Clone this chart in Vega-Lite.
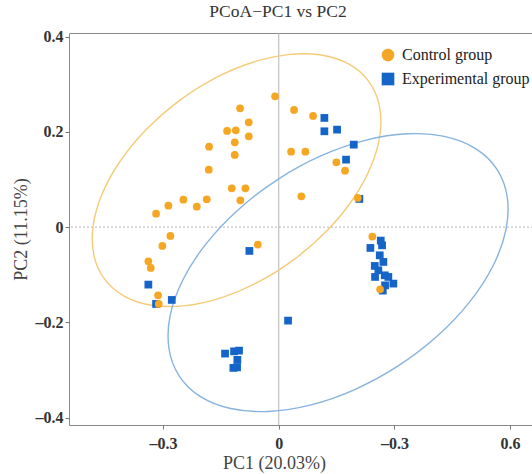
{
  "$schema": "https://vega.github.io/schema/vega-lite/v6.json",
  "autosize": {"type": "none"},
  "width": 468,
  "height": 392,
  "padding": {"left": 69, "top": 33, "right": 0, "bottom": 49},
  "background": "white",
  "title": {"text": "PCoA\u2212PC1 vs PC2", "font": "Liberation Serif", "fontSize": 17.5, "fontWeight": "normal", "color": "#333", "anchor": "middle", "dx": -25, "offset": 8},
  "config": {
    "view": {"stroke": "#8a8a8a", "strokeWidth": 1},
    "axis": {"grid": false, "domain": false, "tickColor": "#777", "tickSize": 4, "labelFont": "Liberation Serif", "labelFontWeight": "bold", "labelFontSize": 16, "labelColor": "#333", "titleFont": "Liberation Serif", "titleFontWeight": "normal", "titleFontSize": 18, "titleColor": "#444"}
  },
  "datasets": {
    "pts": [
      {"g": "Experimental group", "x": 0.1183, "y": 0.2293},
      {"g": "Experimental group", "x": 0.1183, "y": 0.2012},
      {"g": "Experimental group", "x": 0.1512, "y": 0.2047},
      {"g": "Experimental group", "x": 0.1945, "y": 0.1732},
      {"g": "Experimental group", "x": 0.1745, "y": 0.1417},
      {"g": "Experimental group", "x": 0.2090, "y": 0.0592},
      {"g": "Experimental group", "x": -0.0762, "y": -0.0500},
      {"g": "Experimental group", "x": -0.3382, "y": -0.1207},
      {"g": "Experimental group", "x": -0.3182, "y": -0.1613},
      {"g": "Experimental group", "x": -0.2775, "y": -0.1529},
      {"g": "Experimental group", "x": 0.0241, "y": -0.1963},
      {"g": "Experimental group", "x": -0.1393, "y": -0.2656},
      {"g": "Experimental group", "x": -0.1159, "y": -0.2608},
      {"g": "Experimental group", "x": -0.1030, "y": -0.2593},
      {"g": "Experimental group", "x": -0.1074, "y": -0.2788},
      {"g": "Experimental group", "x": -0.1177, "y": -0.2956},
      {"g": "Experimental group", "x": -0.1081, "y": -0.2944},
      {"g": "Experimental group", "x": 0.2645, "y": -0.0283},
      {"g": "Experimental group", "x": 0.2376, "y": -0.0437},
      {"g": "Experimental group", "x": 0.2679, "y": -0.0382},
      {"g": "Experimental group", "x": 0.2619, "y": -0.0592},
      {"g": "Experimental group", "x": 0.2713, "y": -0.0731},
      {"g": "Experimental group", "x": 0.2490, "y": -0.0815},
      {"g": "Experimental group", "x": 0.2583, "y": -0.0907},
      {"g": "Experimental group", "x": 0.2749, "y": -0.1012},
      {"g": "Experimental group", "x": 0.2497, "y": -0.1046},
      {"g": "Experimental group", "x": 0.2842, "y": -0.1046},
      {"g": "Experimental group", "x": 0.2972, "y": -0.1186},
      {"g": "Experimental group", "x": 0.2757, "y": -0.1222},
      {"g": "Experimental group", "x": 0.2697, "y": -0.1333},
      {"g": "Control group", "x": -0.0096, "y": 0.2746},
      {"g": "Control group", "x": -0.1004, "y": 0.2494},
      {"g": "Control group", "x": -0.0778, "y": 0.2200},
      {"g": "Control group", "x": -0.1341, "y": 0.2020},
      {"g": "Control group", "x": -0.1115, "y": 0.2033},
      {"g": "Control group", "x": -0.0778, "y": 0.1907},
      {"g": "Control group", "x": -0.1141, "y": 0.1781},
      {"g": "Control group", "x": -0.1808, "y": 0.1690},
      {"g": "Control group", "x": -0.1141, "y": 0.1516},
      {"g": "Control group", "x": -0.1815, "y": 0.1207},
      {"g": "Control group", "x": -0.1219, "y": 0.0815},
      {"g": "Control group", "x": -0.0866, "y": 0.0815},
      {"g": "Control group", "x": -0.0996, "y": 0.0563},
      {"g": "Control group", "x": -0.1867, "y": 0.0584},
      {"g": "Control group", "x": -0.2474, "y": 0.0577},
      {"g": "Control group", "x": -0.2127, "y": 0.0430},
      {"g": "Control group", "x": -0.2863, "y": 0.0451},
      {"g": "Control group", "x": -0.3182, "y": 0.0283},
      {"g": "Control group", "x": 0.0397, "y": 0.2461},
      {"g": "Control group", "x": 0.0890, "y": 0.2335},
      {"g": "Control group", "x": 0.0319, "y": 0.1585},
      {"g": "Control group", "x": 0.0690, "y": 0.1585},
      {"g": "Control group", "x": 0.1494, "y": 0.1361},
      {"g": "Control group", "x": 0.1719, "y": 0.1186},
      {"g": "Control group", "x": 0.0586, "y": 0.0647},
      {"g": "Control group", "x": 0.2049, "y": 0.0613},
      {"g": "Control group", "x": -0.2811, "y": -0.0185},
      {"g": "Control group", "x": -0.3019, "y": -0.0395},
      {"g": "Control group", "x": -0.0545, "y": -0.0367},
      {"g": "Control group", "x": -0.3382, "y": -0.0718},
      {"g": "Control group", "x": -0.3320, "y": -0.0857},
      {"g": "Control group", "x": -0.3130, "y": -0.1432},
      {"g": "Control group", "x": -0.3112, "y": -0.1613},
      {"g": "Control group", "x": 0.2427, "y": -0.0199},
      {"g": "Control group", "x": 0.2627, "y": -0.1306}
    ],
    "ell": [
      {"g": "Control group", "i": 0, "x": 0.2323, "y": 0.3072},
      {"g": "Control group", "i": 1, "x": 0.1811, "y": 0.3426},
      {"g": "Control group", "i": 2, "x": 0.1100, "y": 0.3614},
      {"g": "Control group", "i": 3, "x": 0.0240, "y": 0.3623},
      {"g": "Control group", "i": 4, "x": -0.0710, "y": 0.3452},
      {"g": "Control group", "i": 5, "x": -0.1688, "y": 0.3114},
      {"g": "Control group", "i": 6, "x": -0.2624, "y": 0.2630},
      {"g": "Control group", "i": 7, "x": -0.3456, "y": 0.2034},
      {"g": "Control group", "i": 8, "x": -0.4128, "y": 0.1367},
      {"g": "Control group", "i": 9, "x": -0.4592, "y": 0.0675},
      {"g": "Control group", "i": 10, "x": -0.4818, "y": 0.0003},
      {"g": "Control group", "i": 11, "x": -0.4791, "y": -0.0602},
      {"g": "Control group", "i": 12, "x": -0.4512, "y": -0.1098},
      {"g": "Control group", "i": 13, "x": -0.4000, "y": -0.1452},
      {"g": "Control group", "i": 14, "x": -0.3289, "y": -0.1641},
      {"g": "Control group", "i": 15, "x": -0.2429, "y": -0.1649},
      {"g": "Control group", "i": 16, "x": -0.1478, "y": -0.1479},
      {"g": "Control group", "i": 17, "x": -0.0501, "y": -0.1140},
      {"g": "Control group", "i": 18, "x": 0.0435, "y": -0.0656},
      {"g": "Control group", "i": 19, "x": 0.1267, "y": -0.0061},
      {"g": "Control group", "i": 20, "x": 0.1939, "y": 0.0606},
      {"g": "Control group", "i": 21, "x": 0.2403, "y": 0.1299},
      {"g": "Control group", "i": 22, "x": 0.2630, "y": 0.1971},
      {"g": "Control group", "i": 23, "x": 0.2602, "y": 0.2576},
      {"g": "Experimental group", "i": 0, "x": 0.5660, "y": 0.1212},
      {"g": "Experimental group", "i": 1, "x": 0.5113, "y": 0.1643},
      {"g": "Experimental group", "i": 2, "x": 0.4323, "y": 0.1899},
      {"g": "Experimental group", "i": 3, "x": 0.3344, "y": 0.1959},
      {"g": "Experimental group", "i": 4, "x": 0.2241, "y": 0.1821},
      {"g": "Experimental group", "i": 5, "x": 0.1090, "y": 0.1494},
      {"g": "Experimental group", "i": 6, "x": -0.0030, "y": 0.0999},
      {"g": "Experimental group", "i": 7, "x": -0.1043, "y": 0.0372},
      {"g": "Experimental group", "i": 8, "x": -0.1881, "y": -0.0346},
      {"g": "Experimental group", "i": 9, "x": -0.2485, "y": -0.1105},
      {"g": "Experimental group", "i": 10, "x": -0.2816, "y": -0.1854},
      {"g": "Experimental group", "i": 11, "x": -0.2849, "y": -0.2543},
      {"g": "Experimental group", "i": 12, "x": -0.2584, "y": -0.3122},
      {"g": "Experimental group", "i": 13, "x": -0.2038, "y": -0.3554},
      {"g": "Experimental group", "i": 14, "x": -0.1248, "y": -0.3809},
      {"g": "Experimental group", "i": 15, "x": -0.0268, "y": -0.3870},
      {"g": "Experimental group", "i": 16, "x": 0.0835, "y": -0.3732},
      {"g": "Experimental group", "i": 17, "x": 0.1985, "y": -0.3405},
      {"g": "Experimental group", "i": 18, "x": 0.3106, "y": -0.2910},
      {"g": "Experimental group", "i": 19, "x": 0.4119, "y": -0.2283},
      {"g": "Experimental group", "i": 20, "x": 0.4956, "y": -0.1565},
      {"g": "Experimental group", "i": 21, "x": 0.5561, "y": -0.0805},
      {"g": "Experimental group", "i": 22, "x": 0.5891, "y": -0.0056},
      {"g": "Experimental group", "i": 23, "x": 0.5925, "y": 0.0632}
    ]
  },
  "layer": [
    {
      "data": {"values": [{}]},
      "mark": {"type": "rule", "color": "#b5b5b5", "strokeWidth": 1},
      "encoding": {"x": {"datum": 0, "type": "quantitative"}}
    },
    {
      "data": {"values": [{}]},
      "mark": {"type": "rule", "color": "#b5b5b5", "strokeWidth": 1, "strokeDash": [2, 2]},
      "encoding": {"y": {"datum": 0, "type": "quantitative"}}
    },
    {
      "data": {"name": "ell"},
      "transform": [{"filter": "datum.g === 'Control group'"}],
      "mark": {"type": "line", "interpolate": "cardinal-closed", "color": "#F4CB78", "strokeWidth": 1.4},
      "encoding": {
        "x": {"field": "x", "type": "quantitative"},
        "y": {"field": "y", "type": "quantitative"},
        "order": {"field": "i", "type": "quantitative"}
      }
    },
    {
      "data": {"name": "ell"},
      "transform": [{"filter": "datum.g === 'Experimental group'"}],
      "mark": {"type": "line", "interpolate": "cardinal-closed", "color": "#86B3DF", "strokeWidth": 1.4},
      "encoding": {
        "x": {"field": "x", "type": "quantitative"},
        "y": {"field": "y", "type": "quantitative"},
        "order": {"field": "i", "type": "quantitative"}
      }
    },
    {
      "data": {"name": "pts"},
      "mark": {"type": "point", "filled": true, "opacity": 1, "size": 60},
      "encoding": {
        "x": {
          "field": "x", "type": "quantitative",
          "scale": {"domain": [-0.544, 0.6697], "nice": false, "zero": false},
          "axis": {"values": [-0.3, 0, 0.3, 0.6], "labelExpr": "abs(datum.value) < 0.01 ? '0' : datum.value > 0.5 ? '0.6' : '\u20130.3'", "title": "PC1 (20.03%)", "titleX": 205, "labelPadding": 6, "titlePadding": 3}
        },
        "y": {
          "field": "y", "type": "quantitative",
          "scale": {"domain": [-0.4155, 0.4076], "nice": false, "zero": false},
          "axis": {"values": [-0.4, -0.2, 0, 0.2, 0.4], "labelExpr": "abs(datum.value) < 0.01 ? '0' : datum.value > 0.3 ? '0.4' : datum.value > 0.1 ? '0.2' : datum.value < -0.3 ? '\u20130.4' : '\u20130.2'", "title": "PC2 (11.15%)", "labelPadding": 2, "titlePadding": 5}
        },
        "color": {
          "field": "g", "type": "nominal",
          "scale": {"domain": ["Control group", "Experimental group"], "range": ["#F5A623", "#1565C8"]},
          "legend": {"title": null, "orient": "none", "legendX": 311, "legendY": 14, "padding": 0, "symbolSize": 160, "symbolOpacity": 1, "labelFont": "Liberation Serif", "labelFontSize": 16, "labelColor": "#222", "labelOffset": 6, "rowPadding": 4}
        },
        "shape": {
          "field": "g", "type": "nominal",
          "scale": {"domain": ["Control group", "Experimental group"], "range": ["circle", "square"]}
        }
      }
    }
  ]
}
